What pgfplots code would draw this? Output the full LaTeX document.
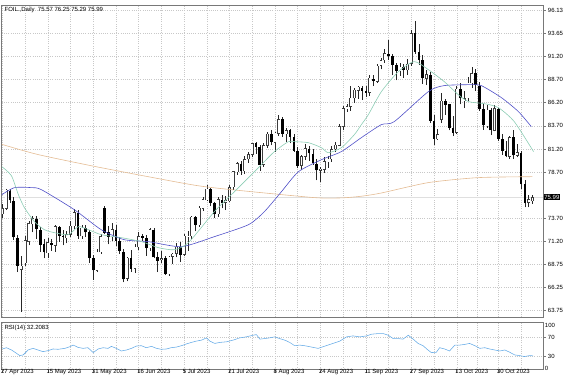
\documentclass[border=0pt]{standalone}
\usepackage{fontspec}
\setmainfont{Liberation Sans}
\usepackage{pgfplots}
\pgfplotsset{compat=1.18}
\usepackage{pgfplotstable}

\definecolor{gridc}{RGB}{200,200,200}
\definecolor{framec}{RGB}{120,120,120}
\definecolor{maG}{RGB}{140,205,180}
\definecolor{maB}{RGB}{80,80,200}
\definecolor{maT}{RGB}{228,188,148}
\definecolor{rsic}{RGB}{100,170,230}
\definecolor{bullc}{RGB}{60,60,60}

\pgfplotstableread{
i o h l c
0 74.20 75.30 73.70 74.76
1 74.80 76.90 74.60 76.78
2 76.70 76.90 75.40 75.66
3 75.60 76.00 71.40 71.66
4 71.60 71.90 67.90 68.60
5 68.20 69.60 63.64 68.56
6 68.90 71.80 68.60 71.34
7 71.20 73.40 70.80 73.16
8 73.10 74.00 72.20 73.71
9 73.60 74.00 71.50 72.56
10 72.50 72.80 70.10 70.87
11 70.90 71.50 69.40 70.04
12 70.00 71.60 69.40 71.11
13 71.10 71.50 70.20 70.86
14 70.80 73.00 70.10 72.83
15 72.80 72.90 71.20 71.86
16 71.80 72.50 70.80 71.69
17 71.60 72.40 71.00 71.99
18 72.00 73.40 71.70 72.91
19 72.90 74.70 72.60 74.34
20 74.30 74.60 71.50 71.83
21 71.80 73.00 71.50 72.67
22 72.70 73.00 71.70 72.20
23 72.20 72.50 68.90 69.46
24 69.40 69.80 67.10 68.09
25 68.10 70.40 67.90 70.10
26 70.10 72.00 69.90 71.74
27 74.80 75.10 72.00 72.15
28 72.20 72.90 70.90 71.74
29 71.70 73.20 71.30 72.53
30 72.50 73.00 70.70 71.29
31 71.30 71.70 69.90 70.17
32 70.10 70.40 66.80 67.12
33 67.20 69.50 66.90 69.42
34 69.40 70.30 67.90 68.27
35 68.30 70.90 67.80 70.62
36 70.60 72.20 70.30 71.78
37 71.80 72.00 71.30 71.60
38 71.60 71.90 69.70 70.50
39 70.50 72.70 70.20 72.53
40 72.50 72.70 69.40 69.51
41 69.50 70.10 67.90 69.16
42 69.20 70.20 68.90 69.37
43 69.40 69.60 67.60 67.70
44 67.70 69.60 67.50 69.56
45 69.60 70.00 68.80 69.86
46 69.90 71.00 69.50 70.64
47 70.60 71.20 69.00 69.79
48 69.80 72.00 69.60 71.79
49 71.70 72.40 70.20 71.80
50 71.80 74.00 71.50 73.86
51 73.90 74.00 72.30 72.99
52 73.00 75.00 72.80 74.83
53 74.80 76.00 74.50 75.75
54 75.70 77.30 75.60 76.89
55 76.90 77.00 75.00 75.42
56 75.40 75.50 73.80 74.15
57 74.20 76.00 73.90 75.75
58 75.70 76.20 74.80 75.35
59 75.40 76.10 74.60 75.63
60 75.60 77.30 75.50 77.07
61 77.10 78.80 76.80 78.74
62 78.70 79.80 78.40 79.63
63 79.60 79.90 78.40 78.78
64 78.80 80.40 78.50 80.09
65 80.10 80.90 79.70 80.58
66 80.60 81.80 80.30 81.80
67 81.80 82.00 80.70 81.37
68 81.40 81.60 78.80 79.49
69 79.50 81.80 79.30 81.55
70 81.60 83.00 81.30 82.82
71 82.80 83.20 81.60 81.94
72 81.90 83.00 80.90 82.92
73 82.90 84.90 82.60 84.40
74 84.40 84.70 82.50 82.82
75 82.80 83.50 82.00 83.19
76 83.20 83.40 81.80 82.51
77 82.50 82.80 80.90 80.99
78 81.00 81.40 79.10 79.38
79 79.40 80.60 78.90 80.39
80 80.40 81.70 80.00 81.25
81 81.20 81.50 79.90 80.72
82 80.70 81.20 79.50 79.64
83 79.60 80.10 77.80 78.89
84 78.90 79.30 77.60 79.05
85 79.00 80.30 78.60 79.83
86 79.80 80.40 79.20 80.10
87 80.10 81.50 79.80 81.16
88 81.20 81.90 80.90 81.63
89 81.60 83.90 81.50 83.63
90 83.60 85.80 83.20 85.55
91 85.50 86.10 85.20 85.80
92 85.80 88.00 85.30 86.69
93 86.70 87.80 86.20 87.54
94 87.50 88.00 86.60 87.87
95 87.80 88.00 86.50 87.51
96 87.50 88.00 86.80 87.29
97 87.30 89.20 86.90 88.84
98 88.80 89.20 88.00 88.52
99 88.50 90.40 88.30 90.16
100 90.20 91.00 89.80 90.77
101 90.80 92.00 90.50 91.48
102 91.50 93.00 90.80 91.20
103 91.20 91.50 89.20 90.28
104 90.30 90.50 88.60 89.63
105 89.60 90.50 89.10 90.03
106 90.00 90.40 88.90 89.68
107 89.70 90.90 89.20 90.39
108 90.40 94.00 90.20 93.68
109 93.70 95.03 91.50 91.71
110 91.70 92.50 90.30 90.79
111 90.80 91.30 88.20 88.82
112 88.80 89.70 88.10 89.23
113 89.20 89.50 84.00 84.22
114 84.20 84.90 81.60 82.31
115 82.30 83.40 82.20 82.79
116 84.40 87.20 84.00 86.38
117 86.40 86.60 84.90 85.97
118 86.00 86.10 83.20 83.49
119 83.50 84.80 82.60 82.91
120 83.00 88.00 82.80 87.69
121 87.70 88.30 86.00 86.66
122 86.40 87.50 85.60 86.66
123 86.70 89.00 86.40 88.32
124 88.30 90.00 87.80 89.37
125 89.40 89.80 87.50 88.08
126 88.00 88.40 85.30 85.49
127 85.50 86.10 83.30 83.74
128 83.70 85.90 83.50 85.39
129 85.40 85.60 82.70 83.21
130 83.20 85.90 83.10 85.54
131 85.50 85.60 82.10 82.31
132 82.30 82.80 80.60 81.02
133 81.00 82.10 80.30 80.44
134 80.40 82.60 80.10 82.46
135 82.50 83.30 80.10 80.51
136 80.50 81.70 80.30 80.82
137 80.80 81.00 76.90 77.37
138 77.40 77.80 74.90 75.33
139 75.40 76.20 74.90 75.74
140 75.57 76.25 75.29 75.99
}\ohlc

\pgfplotsset{
  mtbase/.style={
    scale only axis, width=541pt, anchor=south west,
    xmin=-0.13, xmax=142.76,
    axis line style={framec, line width=0.8pt},
    tick label style={font=\fontsize{6}{7}\selectfont, text=black},
    xtick={0,12,24,36,48,60,72,84,96,108,120,131},
    minor xtick={6,18,30,42,54,66,78,90,102,114,125.5,137},
    xmajorgrids, xminorgrids, ymajorgrids,
    grid style={gridc, dash pattern=on 1pt off 1.2pt, line width=0.45pt},
    minor grid style={gridc, dash pattern=on 1pt off 1.2pt, line width=0.45pt},
    minor tick length=0pt,
    tick align=outside,
    ytick pos=right, yticklabel pos=right,
    tick style={framec, line width=0.5pt},
    clip mode=individual,
  },
  candle/.style={draw=none, mark=none, forget plot,
    error bars/y dir=plus, error bars/y explicit, error bars/error mark=none},
}

\begin{document}
\begin{tikzpicture}[x=1pt,y=1pt]
\useasboundingbox (0,0) rectangle (564,376);

% ---------------- main price panel ----------------
\begin{axis}[mtbase,
  at={(0.5,63.5)}, height=312pt,
  ymin=63.05, ymax=96.72,
  xticklabels={,,,,,,,,,,,}, xtick style={draw=none},
  major tick length=3pt,
  ytick={63.75,66.25,68.75,71.20,73.70,78.70,81.20,83.70,86.20,88.70,91.20,93.65,96.13},
  yticklabels={63.75,66.25,68.75,71.20,73.70,78.70,81.20,83.70,86.20,88.70,91.20,93.65,96.13},
  yticklabel style={xshift=-1.5pt},
]
\addplot[gray!25, line width=0.4pt] coordinates {(-0.13,75.99) (142.76,75.99)};

% wicks
\addplot[candle, error bars/error bar style={black!85, line width=0.6pt}]
  table[x=i, y=l, y error plus expr={\thisrow{h}-\thisrow{l}}] {\ohlc};
% bearish bodies
\addplot[candle, error bars/error bar style={black, line width=2.7pt},
  x filter/.expression={\thisrow{c}<\thisrow{o} ? x : nan}]
  table[x=i, y=c, y error plus expr={max(\thisrow{o}-\thisrow{c},0.05)}] {\ohlc};
% bullish bodies: outline then white interior
\addplot[candle, error bars/error bar style={bullc, line width=2.8pt},
  x filter/.expression={\thisrow{c}<\thisrow{o} ? nan : x}]
  table[x=i, y expr={\thisrow{o}-0.03}, y error plus expr={\thisrow{c}-\thisrow{o}+0.06}] {\ohlc};
\addplot[candle, error bars/error bar style={white, line width=1.8pt},
  x filter/.expression={\thisrow{c}-\thisrow{o}>0.06 ? x : nan}]
  table[x=i, y expr={\thisrow{o}+0.028}, y error plus expr={\thisrow{c}-\thisrow{o}-0.056}] {\ohlc};

% slow moving average (tan)
\addplot[maT, line width=0.6pt, smooth, tension=0.4] coordinates {
(-0.13,81.70) (9.5,80.59) (26.1,79.18) (49.9,77.35) (60.5,76.81) (82.4,75.95)
(89.5,75.92) (94.8,76.10) (100.1,76.45) (112.5,77.57) (125.7,78.11) (140,78.21)};

% medium moving average (blue)
\addplot[maB, line width=0.6pt, smooth, tension=0.4] coordinates {
(-0.13,76.27) (3.17,77.03) (7.66,77.03) (10.3,76.81) (19.0,74.65) (26.1,72.49)
(32.2,71.41) (38.6,71.20) (47.3,70.66) (56.0,71.74) (65.0,73.03) (69.2,74.44)
(73.7,76.59) (78.2,78.75) (84.3,80.05) (89.5,80.91) (94.8,82.42) (100.1,83.83)
(103.5,84.15) (112.5,87.39) (116.7,88.04) (123.9,88.14) (126.5,88.04) (131.8,86.74)
(136.3,85.23) (139.7,83.61)};

% fast moving average (green)
\addplot[maG, line width=0.6pt, smooth, tension=0.4] coordinates {
(-0.13,79.29) (2.38,78.32) (4.23,76.27) (5.81,74.87) (8.45,73.36) (11.09,72.49)
(13.73,72.17) (17.43,71.95) (20.07,72.82) (22.72,72.49) (26.15,71.95) (31.43,71.63)
(36.71,71.20) (41.20,70.55) (45.43,70.33) (49.13,71.09) (56.0,74.44) (60.49,76.27)
(67.62,79.18) (71.84,80.91) (75.54,81.99) (77.13,81.99) (80.83,81.88) (84.26,81.34)
(86.11,80.80) (89.54,81.34) (92.97,82.75) (94.82,83.83) (96.67,84.91) (100.10,87.39)
(104.6,89.55) (108.8,90.63) (112.5,89.76) (116.7,88.47) (120.4,87.06) (123.1,86.31)
(127.3,86.09) (131.0,85.66) (135.2,84.15) (140.3,80.91)};

\node[anchor=north west, inner sep=0pt, font=\fontsize{6}{7}\selectfont]
  at (rel axis cs:0,1) [xshift=2.5pt, yshift=-2.2pt] {FOIL.,Daily\ \ 75.57 76.25 75.29 75.99};
\node[anchor=west, fill=black, text=white, inner sep=0.9pt, font=\fontsize{6}{7}\selectfont]
  at (axis cs:142.76,75.99) [xshift=0.4pt] {75.99};
\end{axis}

% ---------------- RSI panel ----------------
\begin{axis}[mtbase,
  at={(0.5,13)}, height=47.5pt,
  ymin=2, ymax=102,
  xtick pos=bottom,
  major tick length=3pt,
  xticklabels={27 Apr 2023,15 May 2023,31 May 2023,16 Jun 2023,5 Jul 2023,21 Jul 2023,8 Aug 2023,24 Aug 2023,11 Sep 2023,27 Sep 2023,13 Oct 2023,30 Oct 2023},
  xticklabel style={anchor=north west, inner sep=0pt, xshift=-1.5pt, yshift=4pt},
  ytick={30,70}, yticklabels={30,70},
  extra y ticks={5.6,95.3}, extra y tick labels={0,100},
  extra y tick style={grid=none, major tick length=0pt},
  yticklabel style={xshift=-1.5pt},
]
\addplot[rsic, line width=0.55pt] coordinates {
(0,45.9) (1.06,48.6) (2.4,43.8) (3.7,36.9) (4.6,32) (5.5,33.4) (6.8,43.8) (8.1,47.2)
(9.4,43.8) (10.7,40.3) (12.1,42.4) (13.4,45.9) (14.7,45.2) (16.5,47.2) (17.8,50.7) (18.7,54.1)
(20.0,49.3) (21.3,47.2) (22.6,48.6) (24.0,38.3) (25.3,45.9) (26.6,48.6) (27.9,47.2) (28.8,51.4)
(30.1,47.2) (31.4,41.7) (32.8,43.8) (34.1,47.2) (35.4,52.1) (36.7,52.8) (38.0,48.6) (39.4,51.4)
(40.7,47.2) (42.0,45.2) (43.3,45.9) (44.6,48.6) (46.0,50) (47.3,52.8) (48.6,56.5) (49.9,59.7)
(51.2,62.4) (52.6,64.5) (53.9,69.3) (54.8,62.4) (56.1,57.6) (57.4,59.7) (59.2,61) (60.9,64.5)
(62.7,69.3) (64.4,71.4) (66.2,74.8) (67.1,76.2) (68.0,66.6) (69.3,67.9) (70.6,69.3) (71.9,71.4)
(73.2,67.9) (74.6,64.5) (75.9,59.7) (77.2,52.8) (78.5,54.1) (79.8,52.8) (81.2,50.7) (82.5,48.6)
(83.4,47.2) (84.7,50.7) (86.0,54.1) (87.3,57.6) (89.1,62.4) (90.9,71.4) (92.6,73.4) (94.4,71.4)
(96.2,73.4) (97.5,77) (99.2,78.3) (100.6,78.3) (101.9,74.8) (103.2,67.9) (104.5,67.9) (105.8,66.6)
(107.2,74.8) (108.5,66.6) (109.8,57.6) (111.1,52.8) (112.4,43.8) (113.3,38.3) (114.6,39) (115.5,48.6)
(116.8,45.9) (118.1,41.7) (119.5,54.1) (120.8,54.1) (122.1,55.5) (123.4,57.6) (124.8,52.8) (126.1,47.2)
(127.4,48.6) (128.7,45.9) (130.0,43.8) (131.4,41.7) (132.7,43.8) (134.0,39) (135.3,33.4) (136.6,32)
(137.9,30) (139.3,32) (140.2,31.4)};
\node[anchor=north west, inner sep=0pt, font=\fontsize{6}{7}\selectfont]
  at (rel axis cs:0,1) [xshift=2.5pt, yshift=-2.2pt] {RSI(14) 32.2083};
\end{axis}
\end{tikzpicture}
\end{document}
